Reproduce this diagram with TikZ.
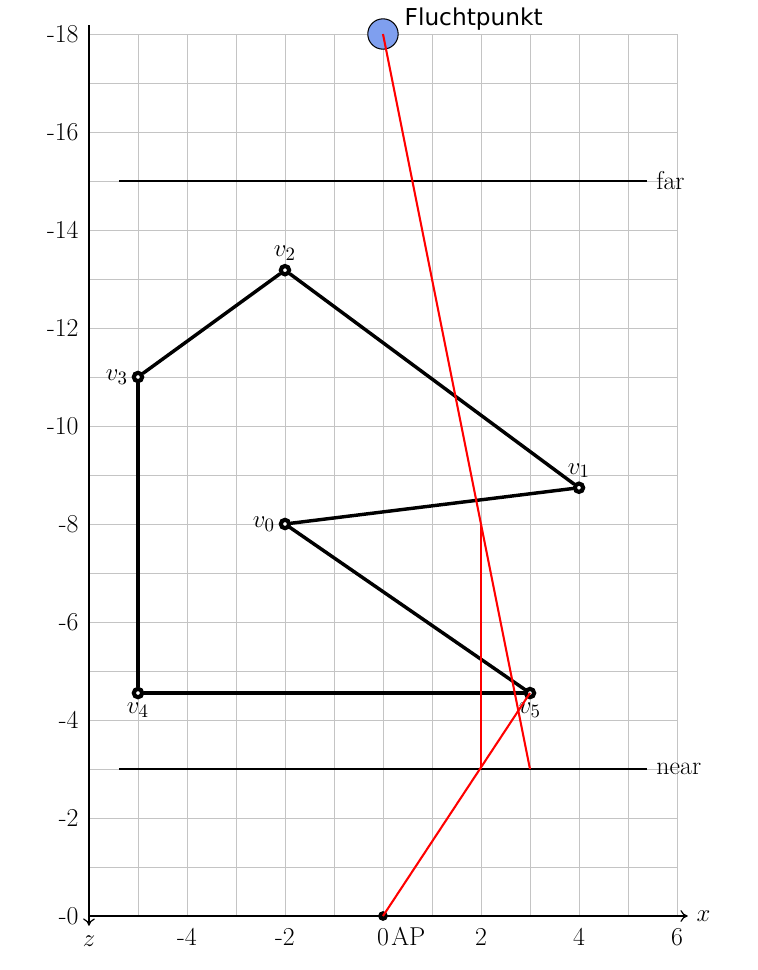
\documentclass[tikz,border=0pt]{standalone}
\usepackage{fontspec}
\newfontfamily\fpfont{DejaVu Sans}
\usetikzlibrary{arrows.meta,positioning}
\definecolor{ink}    {HTML}{000000}
\definecolor{gridln} {HTML}{C4C4C4}
\definecolor{ray}    {HTML}{FF0000}
\definecolor{fpfill} {HTML}{7F9FEF}
\tikzset{
  vertex/.style={
    circle, draw=ink, line width=2.4pt, fill=white,
    inner sep=0pt, minimum size=0.17cm
  },
  vlabel/.style={font=\fontsize{15}{18}\selectfont, inner sep=2pt},
  polyedge/.style={line width=2pt, draw=ink, line cap=round},
  rayline/.style={line width=1.2pt, draw=ray},
  planeline/.style={line width=0.9pt, draw=ink},
  axisline/.style={-{To[length=1.5mm, width=2.4mm]}, line width=0.7pt, draw=ink},
  ticklabel/.style={font=\fontsize{15}{18}\selectfont, text=ink, inner sep=1pt}
}

\begin{document}
\begin{tikzpicture}[
          fpnode/.style={circle, draw=ink, line width=0.6pt, fill=fpfill, minimum size=0.62cm, inner sep=0pt},
          fplabel/.style={font=\fpfont\fontsize{13.5}{16}\selectfont, inner sep=1pt}
        ]
        \useasboundingbox (-7.816,-1.102) rectangle (7.653,18.694);
        \draw[gridln, line width=0.5pt] (-6,0) grid (6,18);
        \coordinate (o) at (-6,0);
        \coordinate (ztop) at (-6,18.18);
        \coordinate (zend) at (-6,-0.2);
        \coordinate (xend) at (6.22,0);
        \draw[axisline] (o) -- (xend);
        \draw[axisline] (ztop) -- (zend);
        \node[ticklabel, anchor=west] (xl) at (6.36,0) {$x$};
        \node[ticklabel, anchor=base] (zl) at (-6,-0.62) {$z$};
        \foreach \t in {-4,-2,0,2,4,6}
          \node[ticklabel, anchor=base] (t\t) at (\t,-0.6) {\t};
        \foreach \t in {0,2,...,18}
          \node[ticklabel, anchor=east] (y\t) at (-6.17,\t) {-\t};
        \node[ticklabel, base right=-1pt of t0] (ap) {AP};

        \coordinate (farl) at (-5.39,15);
        \coordinate (farr) at (5.39,15);
        \coordinate (nearl) at (-5.39,3);
        \coordinate (nearr) at (5.39,3);
        \draw[planeline] (farl) -- (farr) node[ticklabel, right, inner sep=5pt] (far) {far};
        \draw[planeline] (nearl) -- (nearr) node[ticklabel, right, inner sep=5pt] (near) {near};

        \node[vertex, label={[vlabel]left:$v_0$}] (v0) at (-2,8) {};
        \node[vertex, label={[vlabel]above:$v_1$}] (v1) at (4,8.74) {};
        \node[vertex, label={[vlabel]above:$v_2$}] (v2) at (-2,13.18) {};
        \node[vertex, label={[vlabel]left:$v_3$}] (v3) at (-5,11) {};
        \node[vertex, label={[vlabel]below:$v_4$}] (v4) at (-5,4.55) {};
        \node[vertex, label={[vlabel]below:$v_5$}] (v5) at (3,4.55) {};
        \draw[polyedge] (v0) -- (v1);
        \draw[polyedge] (v1) -- (v2);
        \draw[polyedge] (v2) -- (v3);
        \draw[polyedge] (v3) -- (v4);
        \draw[polyedge] (v4) -- (v5);
        \draw[polyedge] (v5) -- (v0);

        \node[fpnode] (fp) at (0,18) {};
        \node[fplabel, right=0.08cm of fp, yshift=0.3cm] (fpt) {Fluchtpunkt};
        \node[circle, fill=ink, inner sep=0pt, minimum size=0.2cm] (apdot) at (0,0) {};
        \coordinate (nearhit) at (3,3);
        \coordinate (nearx) at (2,3);
        \coordinate (proj) at (2,8);
        \draw[rayline] (fp.center) -- (nearhit);
        \draw[rayline] (apdot.center) -- (v5.center);
        \draw[rayline] (nearx) -- (proj);
      \end{tikzpicture}
\end{document}
